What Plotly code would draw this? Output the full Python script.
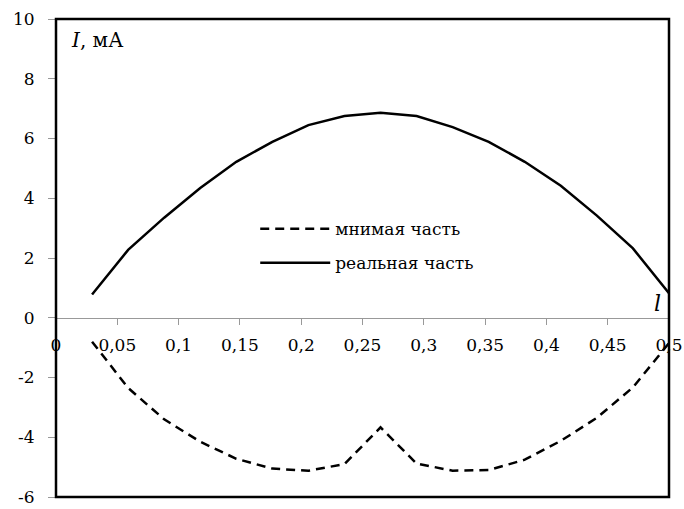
import plotly.graph_objects as go

# Sampling points along the line, l = k/34 for k = 1..17
l_values = [k / 34 for k in range(1, 18)]

# Current components, mA
imag_part = [-0.8, -2.35, -3.4, -4.15, -4.72, -5.05, -5.12, -4.9, -3.67,
             -4.88, -5.12, -5.1, -4.75, -4.12, -3.35, -2.33, -0.85]
real_part = [0.78, 2.27, 3.35, 4.34, 5.22, 5.89, 6.45, 6.75, 6.86,
             6.75, 6.38, 5.89, 5.22, 4.42, 3.42, 2.32, 0.82]

x_ticks = [0, 0.05, 0.1, 0.15, 0.2, 0.25, 0.3, 0.35, 0.4, 0.45, 0.5]
x_tick_labels = ["0", "0,05", "0,1", "0,15", "0,2", "0,25", "0,3", "0,35", "0,4", "0,45", "0,5"]
y_ticks = [-6, -4, -2, 0, 2, 4, 6, 8, 10]
y_tick_labels = ["-6", "-4", "-2", "0", "2", "4", "6", "8", "10"]

FONT = "DejaVu Serif"

fig = go.Figure()
fig.add_trace(go.Scatter(
    x=l_values, y=imag_part, mode="lines", name="мнимая часть",
    legendgroup="imag",
    line=dict(color="black", width=2.5, dash="9px,6px"),
))
fig.add_trace(go.Scatter(
    x=l_values, y=real_part, mode="lines", name="реальная часть",
    legendgroup="real",
    line=dict(color="black", width=2.5),
))

y_min, y_max = -6, 10
zero_pos = (0 - y_min) / (y_max - y_min)

fig.update_layout(
    width=684, height=509,
    margin=dict(l=56, r=15, t=19, b=12, autoexpand=False),
    paper_bgcolor="white", plot_bgcolor="white",
    font=dict(family=FONT, size=17, color="black"),
    showlegend=True,
    legend=dict(
        x=0.325, y=0.598, xanchor="left", yanchor="top",
        bgcolor="rgba(0,0,0,0)", borderwidth=0,
        font=dict(family=FONT, size=17, color="black"),
        itemwidth=70, traceorder="grouped", tracegroupgap=9,
    ),
    xaxis=dict(
        range=[0, 0.5], tickvals=x_ticks, ticktext=x_tick_labels,
        anchor="free", position=zero_pos, automargin=False,
        showline=True, linecolor="#999999", linewidth=1,
        ticks="outside", ticklen=6, tickcolor="#999999", tickwidth=1,
        ticklabelstandoff=6,
        showgrid=False, zeroline=False,
        tickfont=dict(family=FONT, size=17, color="black"),
    ),
    yaxis=dict(
        range=[y_min, y_max], tickvals=y_ticks, ticktext=y_tick_labels,
        automargin=False, showline=False,
        ticks="outside", ticklen=7, tickcolor="#999999", tickwidth=1,
        ticklabelstandoff=10,
        showgrid=False, zeroline=False,
        tickfont=dict(family=FONT, size=17, color="black"),
    ),
    shapes=[dict(
        type="rect", xref="paper", yref="paper", x0=0, x1=1, y0=0, y1=1,
        line=dict(color="black", width=2.5), fillcolor="rgba(0,0,0,0)",
        layer="above",
    )],
    annotations=[
        dict(text="<i>I</i>, мА", xref="paper", yref="paper", x=0.022, y=0.985,
             xanchor="left", yanchor="top", showarrow=False,
             font=dict(family=FONT, size=20, color="black")),
        dict(text="<i>l</i>", xref="paper", yref="paper", x=0.99, y=zero_pos,
             xanchor="right", yanchor="bottom", showarrow=False,
             font=dict(family=FONT, size=22, color="black")),
    ],
)

fig.write_html("out.html")
